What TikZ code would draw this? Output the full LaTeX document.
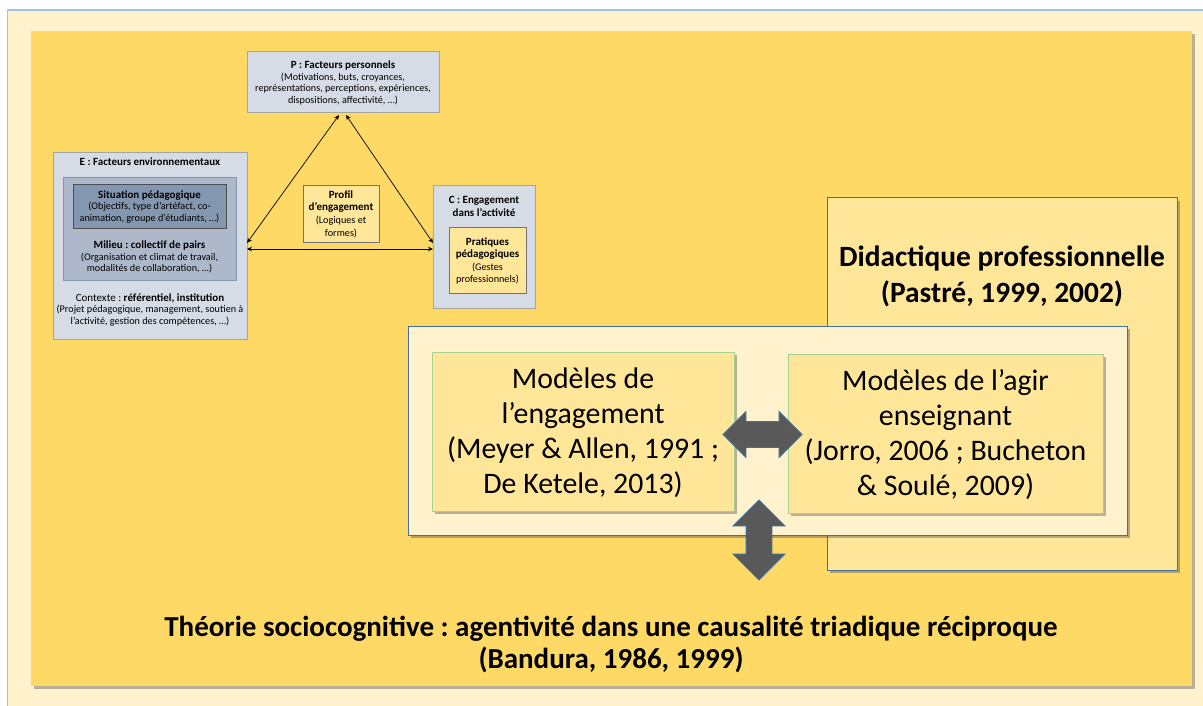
\documentclass[tikz,border=0pt]{standalone}
\usepackage{fontspec}
\setmainfont{Carlito}
\frenchspacing
\usetikzlibrary{shadows,arrows.meta,shapes.arrows,calc}
\definecolor{gold}{HTML}{FFD966}
\definecolor{cream}{HTML}{FFF2CC}
\definecolor{lyel}{HTML}{FFE699}
\definecolor{bordblue}{HTML}{41719C}
\definecolor{framblue}{HTML}{9DC3E6}
\definecolor{grn}{HTML}{A9D18E}
\definecolor{gbox}{HTML}{D6DCE5}
\definecolor{gmid}{HTML}{ADB9CA}
\definecolor{gdark}{HTML}{8497B0}
\definecolor{gline}{HTML}{A5A5A5}
\definecolor{arrowgray}{HTML}{595959}
\newcommand{\smallfs}{\fontsize{10.2}{11.6}\selectfont}
\newcommand{\hd}[1]{{\fontsize{11}{12}\selectfont\bfseries #1}}
\tikzset{
  fr/.style={rectangle, inner sep=0pt, outer sep=0pt, anchor=north west},
  shad/.style={drop shadow={shadow xshift=3pt, shadow yshift=-3pt, opacity=0.4, fill=black!70}},
  graybox/.style={fr, fill=gbox, draw=gline, line width=0.8pt},
  yelbox/.style={fr, fill=lyel, draw=black!55, line width=0.8pt},
  modelbox/.style={fr, fill=lyel, draw=grn, line width=1pt, shad},
  bluebox/.style={fr, draw=bordblue, line width=1pt, shad},
  txt/.style={align=center, inner sep=0pt},
  thin arrow/.style={draw=black, line width=0.7pt, {Stealth[length=5pt,width=4.5pt]}-{Stealth[length=5pt,width=4.5pt]}},
  big arrow/.style={double arrow, fill=arrowgray, draw=bordblue, line width=0.8pt, minimum width=0pt, inner xsep=0pt, inner ysep=12.5pt, double arrow head extend=10pt}
}
\begin{document}
\begin{tikzpicture}[x=1pt,y=-1pt]
\useasboundingbox (0,0) rectangle (1203,706);
\fill[white] (0,0) rectangle (1203,706);
\fill[cream] (7.5,10) rectangle (1203,706);
\draw[framblue, line width=1.3pt] (7.5,706) -- (7.5,10) -- (1203,10);
\node[fr, fill=gold, shad, minimum width=1161pt, minimum height=655pt] (bg) at (31,31) {};

% right part
\node[bluebox, fill=lyel, minimum width=350pt, minimum height=372pt] (did) at (827,198) {};
\node[txt, font=\fontsize{29.4}{36}\selectfont\bfseries] (didt) at (1002,276) {Didactique professionnelle\\(Pastré, 1999, 2002)};
\node[bluebox, fill=cream, minimum width=719pt, minimum height=209pt] (inner) at (408,326) {};
\node[modelbox, minimum width=302pt, minimum height=159pt] (lm) at (432,352) {};
\node[txt, font=\fontsize{29.8}{35}\selectfont] (lmt) at ($(lm.center)+(0,1)$) {Modèles de\\l’engagement\\(Meyer \& Allen, 1991 ;\\De Ketele, 2013)};
\node[modelbox, minimum width=315pt, minimum height=159pt] (rm) at (788,354) {};
\node[txt, font=\fontsize{29.8}{35}\selectfont] (rmt) at ($(rm.center)+(0,1.5)$) {Modèles de l’agir\\enseignant\\(Jorro, 2006 ; Bucheton\\\& Soulé, 2009)};
\node[big arrow, minimum height=79pt] (ha) at (762.5,434.5) {};
\node[big arrow, rotate=90, minimum height=80pt, double arrow head extend=13pt] (va) at (759,540) {};
\node[txt, font=\fontsize{29}{32}\selectfont\bfseries] (theo) at (611,644) {Théorie sociocognitive : agentivité dans une causalité triadique réciproque\\(Bandura, 1986, 1999)};

% left triad
\node[graybox, minimum width=192pt, minimum height=61pt] (P) at (247,51) {};
\node[txt, font=\smallfs] (Pt) at (343,83) {\hd{P : Facteurs personnels}\\(Motivations, buts, croyances,\\représentations, perceptions, expériences,\\dispositions, affectivité, …)};

\node[graybox, minimum width=194pt, minimum height=187pt] (E) at (53,152) {};
\node[txt, font=\fontsize{11}{12}\selectfont\bfseries] (Et) at (150,162) {E : Facteurs environnementaux};
\node[fr, fill=gmid, draw=gdark, line width=0.8pt, minimum width=173pt, minimum height=103pt] (mil) at (63,177) {};
\node[fr, fill=gdark, draw=black!70, line width=0.8pt, minimum width=153pt, minimum height=44pt] (sit) at (73,184) {};
\node[txt, font=\smallfs] (sitt) at (149.5,207) {\hd{Situation pédagogique}\\(Objectifs, type d’artéfact, co-\\animation, groupe d’étudiants, …)};
\node[txt, font=\smallfs] (milt) at (149.5,257) {\hd{Milieu : collectif de pairs}\\(Organisation et climat de travail,\\modalités de collaboration, …)};
\node[txt, font=\smallfs] (ctx) at (150,310) {{\fontsize{11}{12}\selectfont Contexte : \bfseries référentiel, institution}\\(Projet pédagogique, management, soutien à\\l’activité, gestion des compétences, …)};

\node[graybox, minimum width=102pt, minimum height=123pt] (C) at (433,185) {};
\node[txt, font=\fontsize{11}{13}\selectfont\bfseries] (Ct) at (484,206.5) {C : Engagement\\dans l’activité};
\node[yelbox, minimum width=77pt, minimum height=66pt] (prat) at (449,227) {};
\node[txt, font=\fontsize{10.2}{12.6}\selectfont] (pratt) at (487.5,261) {\hd{Pratiques}\\\hd{pédagogiques}\\(Gestes\\professionnels)};

\node[yelbox, minimum width=76pt, minimum height=57pt] (prof) at (303,185) {};
\node[txt, font=\fontsize{10.2}{12.6}\selectfont] (proft) at (341,214) {\hd{Profil}\\\hd{d’engagement}\\(Logiques et\\formes)};

\draw[thin arrow] ([xshift=-4pt,yshift=-3pt]P.south) -- ([yshift=2.5pt]E.east);
\draw[thin arrow] ([xshift=3pt,yshift=-3pt]P.south) -- ([yshift=3.5pt]C.west);
\draw[thin arrow] ([yshift=-3.5pt]E.east) -- ([yshift=-2.5pt]C.west);
\end{tikzpicture}
\end{document}
